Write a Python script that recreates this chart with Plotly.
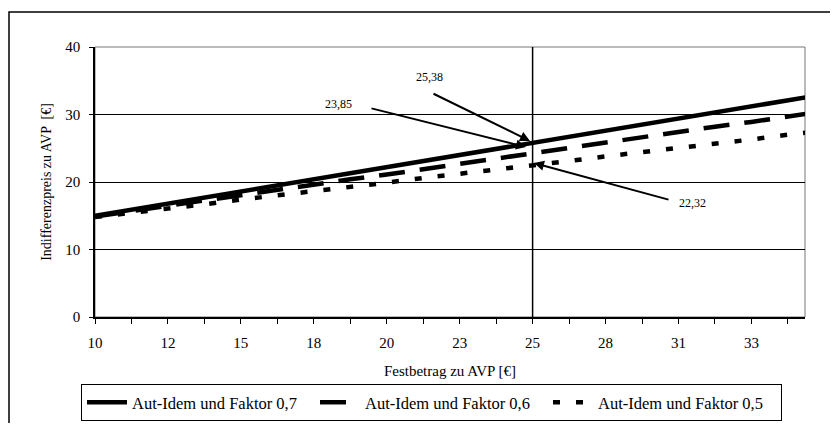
import plotly.graph_objects as go

# Category axis: Festbetrag zu AVP (every second category labelled)
fb_labels = ["10", "", "12", "", "15", "", "18", "", "20", "", "23", "", "25", "", "28", "", "31", "", "33", "", ""]
cat_index = list(range(len(fb_labels)))

# Indifferenzpreis zu AVP [€]
faktor_07 = [15.0, 15.9, 16.8, 17.7, 18.6, 19.5, 20.4, 21.3, 22.2, 23.1, 24.0, 24.9, 25.8, 26.7, 27.6, 28.5, 29.4, 30.3, 31.2, 32.1, 33.0]
faktor_06 = [14.9, 15.7, 16.5, 17.2, 18.0, 18.8, 19.6, 20.4, 21.1, 21.9, 22.7, 23.5, 24.3, 25.0, 25.8, 26.6, 27.4, 28.2, 28.9, 29.7, 30.5]
faktor_05 = [14.8, 15.4, 16.1, 16.7, 17.4, 18.0, 18.6, 19.3, 19.9, 20.6, 21.2, 21.8, 22.5, 23.1, 23.8, 24.4, 25.0, 25.7, 26.3, 27.0, 27.6]

series_names = ["Aut-Idem und Faktor 0,7", "Aut-Idem und Faktor 0,6", "Aut-Idem und Faktor 0,5"]
marked_festbetrag = "25"
marked_values = ["25,38", "23,85", "22,32"]

FONT = "Liberation Serif, Times New Roman, serif"

# page body has an 8px margin: work in screen pixels, convert to figure pixels
OFF = 8
SW, SH = 838, 431
W, H = SW - 2 * OFF, SH - 2 * OFF
# plot area in screen pixels
PX0, PX1, PY0, PY1 = 95, 805, 47, 317
L, R, T, B = PX0 - OFF, W - (PX1 - OFF), PY0 - OFF, H - (PY1 - OFF)
pw, ph = PX1 - PX0, PY1 - PY0

def px2paper(px, py):
    return (px - PX0) / pw, (PY1 - py) / ph

fig = go.Figure()
styles = [
    dict(color="black", width=4.5, dash="solid"),
    dict(color="black", width=4.5, dash="26px,15px"),
    dict(color="black", width=4.5, dash="7px,16px"),
]
for name, vals, st in zip(series_names, [faktor_07, faktor_06, faktor_05], styles):
    fig.add_trace(go.Scatter(x=cat_index, y=vals, mode="lines", name=name, line=st))

x25 = fb_labels.index(marked_festbetrag)

# vertical reference line at Festbetrag 25
fig.add_shape(type="line", xref="x", yref="y", x0=x25, x1=x25, y0=0, y1=40,
              line=dict(color="black", width=1.5), layer="above")
# plot area frame (light)
fig.add_shape(type="rect", xref="paper", yref="paper", x0=0, x1=1, y0=0, y1=1,
              line=dict(color="#777777", width=1), layer="below")
# outer chart frame
ox0, oy0 = px2paper(9, 12)
ox1, oy1 = px2paper(860, 460)
fig.add_shape(type="rect", xref="paper", yref="paper", x0=ox0, x1=ox1, y0=oy1, y1=oy0,
              line=dict(color="black", width=1.5), layer="below")

# annotations: (text, text pos, arrow tail, arrow tip) -- screen pixels
ann_layout = [
    (marked_values[0], (429, 77), (432, 93), (530, 141)),
    (marked_values[1], (338, 104), (370, 108), (526, 147)),
    (marked_values[2], (692, 203), (670, 200), (534, 163)),
]
for txt, tpos, tail, tip in ann_layout:
    tx, ty = px2paper(*tpos)
    fig.add_annotation(x=tx, y=ty, xref="paper", yref="paper", text=txt, showarrow=False,
                       xanchor="center", yanchor="middle",
                       font=dict(family=FONT, size=12, color="black"))
    hx, hy = px2paper(*tip)
    fig.add_annotation(x=hx, y=hy, xref="paper", yref="paper", ax=tail[0] - tip[0], ay=tail[1] - tip[1],
                       axref="pixel", ayref="pixel", text="", showarrow=True,
                       arrowhead=2, arrowsize=1.0, arrowwidth=2, arrowcolor="black")

lx, ly = px2paper(81, 421)
fig.update_layout(
    width=W, height=H,
    margin=dict(l=L, r=R, t=T, b=B, autoexpand=False),
    paper_bgcolor="white", plot_bgcolor="white",
    font=dict(family=FONT, size=15, color="black"),
    showlegend=True,
    legend=dict(orientation="h", x=lx, y=ly, xanchor="left", yanchor="bottom",
                bordercolor="black", borderwidth=1, font=dict(family=FONT, size=16.5),
                entrywidth=178, entrywidthmode="pixels", tracegroupgap=0,
                itemwidth=40),
    xaxis=dict(range=[0, 19.47], tickmode="array", tickvals=cat_index, ticktext=fb_labels,
               showgrid=False, zeroline=False, showline=True, linecolor="black", linewidth=1.5,
               ticks="outside", ticklen=5, tickcolor="black", tickfont=dict(size=15),
               automargin=False, ticklabelstandoff=6,
               title=dict(text="Festbetrag zu AVP [€]", font=dict(size=15), standoff=16)),
    yaxis=dict(range=[0, 40], dtick=10, showgrid=True, gridcolor="black", gridwidth=1,
               zeroline=False, showline=True, linecolor="black", linewidth=1.5,
               ticks="outside", ticklen=4, tickcolor="black", tickfont=dict(size=15),
               ticklabelstandoff=6, automargin=False,
               title=dict(text="Indifferenzpreis zu AVP  [€]", font=dict(size=14), standoff=10)),
)

fig.write_html("out.html")
